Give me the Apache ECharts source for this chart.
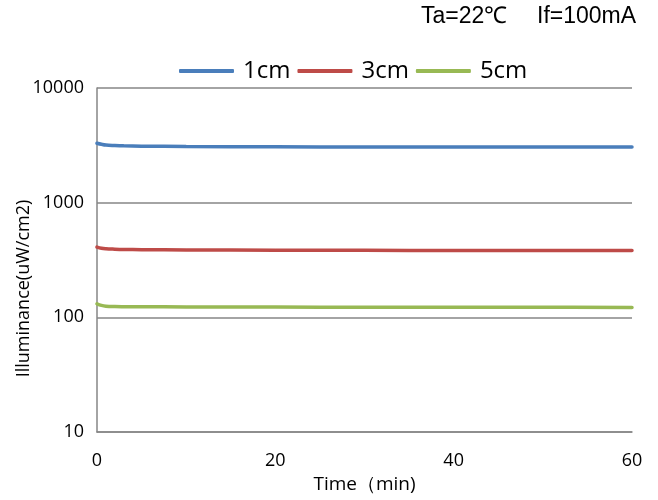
<!DOCTYPE html>
<html><head><meta charset="utf-8">
<script src="https://cdn.jsdelivr.net/npm/echarts@6/dist/echarts.min.js"></script>
<style>html,body{margin:0;padding:0;background:#fff}#c{width:658px;height:500px}</style>
</head><body><div id="c"></div>
<script>
var times = [0, 0.5, 1, 2, 3, 5, 10, 20, 30, 40, 50, 60];
var s1cm = [3300, 3230, 3180, 3150, 3130, 3110, 3090, 3070, 3060, 3060, 3060, 3060];
var s3cm = [410, 400, 396, 393, 391, 389, 387, 385, 384, 383, 383, 382];
var s5cm = [131, 127, 125, 124, 123.7, 123.5, 123.3, 123, 122.5, 122.3, 122.2, 122];
var seriesNames = ['1cm', '3cm', '5cm'];
var colors = ['#4a7ebb', '#be4b48', '#98b954'];
var yTicks = [10, 100, 1000, 10000];

function pairs(v){ return times.map(function(t,i){ return [t, v[i]]; }); }
var chart = echarts.init(document.getElementById('c'));
var font = '"Open Sans", sans-serif';
chart.setOption({
  animation: false,
  backgroundColor: '#fff',
  graphic: [
    {type:'text', left: 421, top: 5, style:{text:'Ta=22℃', font:'23px "Liberation Sans", Arial, sans-serif', fill:'#000'}},
    {type:'text', left: 537, top: 5, style:{text:'If=100mA', font:'23px "Liberation Sans", Arial, sans-serif', fill:'#000'}}
  ],
  legend: {
    top: 54, left: 174,
    itemWidth: 55, itemHeight: 4, itemGap: 7,
    icon: 'roundRect',
    textStyle: {fontFamily: font, fontSize: 24, color: '#000', padding:[0,0,0,4]},
    data: seriesNames
  },
  grid: {left: 97, right: 26, top: 88, bottom: 68, containLabel: false, outerBoundsMode: 'none'},
  xAxis: {
    type: 'value', min: 0, max: 60, interval: 20,
    name: 'Time（min)', nameLocation: 'middle', nameGap: 40,
    nameTextStyle: {fontFamily: font, fontSize: 19, color: '#000'},
    axisLine: {lineStyle: {color: '#868686', width: 1.5}},
    axisTick: {show: false},
    axisLabel: {fontFamily: font, fontSize: 18, color: '#000', margin: 20},
    splitLine: {show: false}
  },
  yAxis: {
    type: 'log', logBase: 10, min: 10, max: 10000,
    name: 'Illuminance(uW/cm2)', nameLocation: 'middle', nameGap: 64, nameMoveOverlap: false,
    nameTextStyle: {fontFamily: font, fontSize: 18, color: '#000', padding: [0, 0, 0, -57]},
    axisLine: {show: true, lineStyle: {color: '#868686', width: 1.5}},
    axisTick: {show: false},
    axisLabel: {fontFamily: font, fontSize: 18, color: '#000', margin: 13,
      formatter: function(v){ return yTicks.indexOf(Math.round(v)) >= 0 ? String(Math.round(v)) : ''; }},
    splitLine: {show: true, lineStyle: {color: '#868686', width: 1.5}}
  },
  series: [s1cm, s3cm, s5cm].map(function(d, i){
    return {
      name: seriesNames[i], type: 'line', data: pairs(d), smooth: 0.4,
      showSymbol: false, symbol: 'none',
      lineStyle: {color: colors[i], width: 3.5, cap: 'round'},
      itemStyle: {color: colors[i]}
    };
  })
});
</script></body></html>
